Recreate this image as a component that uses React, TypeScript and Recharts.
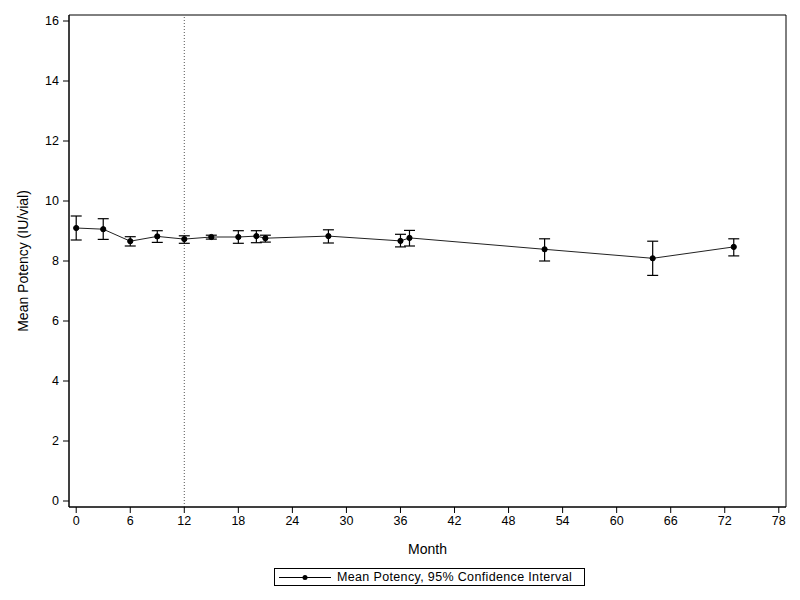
import React from 'react';
import { LineChart, Line, XAxis, YAxis, ErrorBar, ReferenceLine, ReferenceArea } from 'recharts';

const months = [0, 3, 6, 9, 12, 15, 18, 20, 21, 28, 36, 37, 52, 64, 73];
const meanPotency = [9.1, 9.06, 8.66, 8.82, 8.73, 8.8, 8.8, 8.83, 8.76, 8.83, 8.67, 8.77, 8.39, 8.09, 8.47];
const lowerCI = [8.7, 8.72, 8.5, 8.62, 8.59, 8.73, 8.59, 8.61, 8.63, 8.6, 8.47, 8.5, 8.0, 7.52, 8.17];
const upperCI = [9.5, 9.41, 8.81, 9.01, 8.84, 8.86, 9.01, 9.01, 8.86, 9.04, 8.89, 9.02, 8.74, 8.66, 8.74];

const xTicks = [0, 6, 12, 18, 24, 30, 36, 42, 48, 54, 60, 66, 72, 78];
const yTicks = [0, 2, 4, 6, 8, 10, 12, 14, 16];
const xDomain = [-0.8, 78.8];
const yDomain = [-0.2, 16.2];

const data = months.map((m, i) => ({
    month: m,
    mean: meanPotency[i],
    err: [+(meanPotency[i] - lowerCI[i]).toFixed(3), +(upperCI[i] - meanPotency[i]).toFixed(3)],
}));

const font = '"Liberation Sans", Arial, Helvetica, sans-serif';
const tickStyle = { fontSize: 12.5, fill: '#000', fontFamily: font };

const YLabel = (props: any) => {
    const { viewBox } = props;
    const cx = viewBox.x + 23;
    const cy = viewBox.y + viewBox.height / 2;
    return (
        <text x={cx} y={cy} transform={`rotate(-90, ${cx}, ${cy})`} textAnchor="middle"
            dominantBaseline="central" fontSize={14} fontFamily={font} fill="#000">
            Mean Potency (IU/vial)
        </text>
    );
};

const XLabel = (props: any) => {
    const { viewBox } = props;
    return (
        <text x={viewBox.x + viewBox.width / 2} y={549} textAnchor="middle"
            dominantBaseline="central" fontSize={14} fontFamily={font} fill="#000">
            Month
        </text>
    );
};

// legend drawn as plain html under the chart
const LegendBox = () => (
    <div style={{
        position: 'absolute', left: 274, top: 568,
        border: '1px solid #000', height: 18, width: 311, boxSizing: 'border-box',
        display: 'flex', alignItems: 'center', fontFamily: font, fontSize: 12.5,
        letterSpacing: 0.35, background: '#fff', whiteSpace: 'nowrap'
    }}>
        <svg width={62} height={15}>
            <line x1={4} y1={7.5} x2={56} y2={7.5} stroke="#000" strokeWidth={1} />
            <circle cx={30} cy={7.5} r={2.5} fill="#000" />
        </svg>
        <span>Mean Potency, 95% Confidence Interval</span>
    </div>
);

export default function App() {
    return (
        <div style={{ position: 'absolute', left: 0, top: 0, width: 800, height: 600, background: '#fff' }}>
            <LineChart width={800} height={600} data={data}
                margin={{ top: 15, right: 14, left: 0, bottom: 0 }}>
                <XAxis dataKey="month" type="number" domain={xDomain} ticks={xTicks}
                    interval={0} allowDataOverflow tick={tickStyle} tickSize={6} tickMargin={3}
                    stroke="#000" height={93} label={<XLabel />} />
                <YAxis type="number" domain={yDomain} ticks={yTicks} interval={0}
                    allowDataOverflow tick={tickStyle} tickSize={6} tickMargin={4} stroke="#000"
                    width={69} label={<YLabel />} />
                {/* plot frame */}
                <ReferenceArea x1={xDomain[0]} x2={xDomain[1]} y1={yDomain[0]} y2={yDomain[1]}
                    fill="none" stroke="#000" strokeWidth={1} fillOpacity={0} />
                <ReferenceLine x={12} stroke="#555" strokeDasharray="1 2" strokeWidth={1} />
                <Line dataKey="mean" stroke="#222" strokeWidth={1} type="linear"
                    dot={{ r: 2.6, fill: '#000', stroke: '#000', strokeWidth: 1 }}
                    isAnimationActive={false}>
                    <ErrorBar dataKey="err" width={5.5} stroke="#000" strokeWidth={1.2}
                        direction="y" isAnimationActive={false} />
                </Line>
            </LineChart>
            <LegendBox />
        </div>
    );
}
